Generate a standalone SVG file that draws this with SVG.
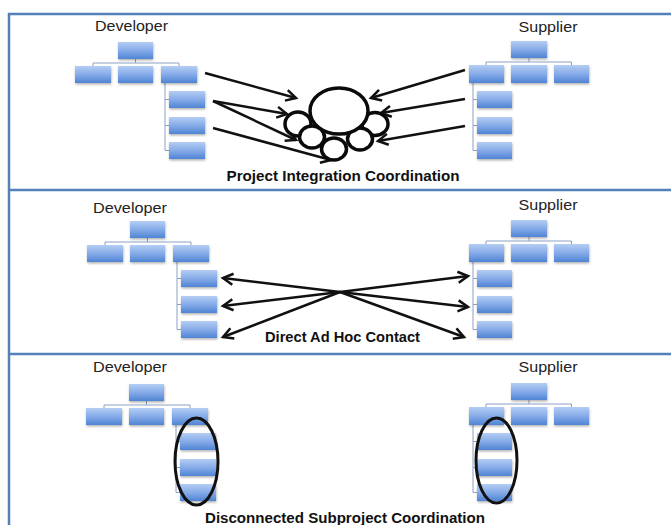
<svg xmlns="http://www.w3.org/2000/svg" width="671" height="525" viewBox="0 0 671 525">
<style>
.box{fill:url(#bg);filter:url(#sh)}
.ol{stroke:#8aa2c4;stroke-width:1;fill:none}
.lbl{font-family:"Liberation Sans",Arial,sans-serif;font-size:15px;fill:#222;text-anchor:middle}
.ttl{font-family:"Liberation Sans",Arial,sans-serif;font-size:14px;font-weight:bold;fill:#111;text-anchor:middle}
.arr{stroke:#111;stroke-width:2.5;fill:none;marker-end:url(#ah)}
.bdr{stroke:#5581b8;stroke-width:2.5;fill:none}
.cir{stroke:#0a0a0a;stroke-width:3.5;fill:#fff}
.ell{stroke:#111;stroke-width:3;fill:none}
</style>
<defs>
<linearGradient id="bg" x1="0" y1="0" x2="0" y2="1">
<stop offset="0" stop-color="#b4cdf3"/>
<stop offset="0.5" stop-color="#86abe8"/>
<stop offset="1" stop-color="#4f84d4"/>
</linearGradient>
<filter id="sh" x="-20%" y="-20%" width="140%" height="160%">
<feDropShadow dx="0.5" dy="1.5" stdDeviation="0.8" flood-color="#000" flood-opacity="0.3"/>
</filter>
<marker id="ah" viewBox="-12 -7 14 14" refX="0" refY="0" markerWidth="14" markerHeight="14" markerUnits="userSpaceOnUse" orient="auto" overflow="visible">
<path d="M-10,-5.5 L0,0 L-10,5.5" stroke="#111" stroke-width="2.5" fill="none" stroke-linejoin="miter"/>
</marker>
<g id="devorg">
<path class="ol" d="M135.5,58V63M93,63H179M93,63V66M179,63V66M165,83V150.5M165,99.5H169M165,125.5H169M165,150.5H169"/>
<rect class="box" x="118" y="42" width="35" height="17"/>
<rect class="box" x="75" y="66" width="36" height="17"/>
<rect class="box" x="118" y="66" width="35" height="17"/>
<rect class="box" x="161" y="66" width="36" height="17"/>
<rect class="box" x="169" y="91" width="36" height="17"/>
<rect class="box" x="169" y="117" width="36" height="17"/>
<rect class="box" x="169" y="142" width="36" height="17"/>
</g>
<g id="suporg">
<path class="ol" d="M529,58V62M486,62H571.5M486,62V65M571.5,62V65M473,83V150.5M473,99.5H477M473,125.5H477M473,150.5H477"/>
<rect class="box" x="511" y="41" width="36" height="17"/>
<rect class="box" x="469" y="65" width="35" height="18"/>
<rect class="box" x="511" y="65" width="36" height="18"/>
<rect class="box" x="554" y="65" width="35" height="18"/>
<rect class="box" x="477" y="91" width="35" height="17"/>
<rect class="box" x="477" y="117" width="35" height="17"/>
<rect class="box" x="477" y="142" width="35" height="17"/>
</g>
</defs>
<rect width="671" height="525" fill="#fff"/>
<g id="panels">
<path class="bdr" d="M9,525V14H671M9,190H671M9,354H671"/>
</g>

<g id="panel1-developer">
<text class="lbl" x="131.5" y="31" textLength="73" lengthAdjust="spacingAndGlyphs">Developer</text>
<use href="#devorg"/>
</g>
<g id="panel1-supplier">
<text class="lbl" x="548" y="32" textLength="59" lengthAdjust="spacingAndGlyphs">Supplier</text>
<use href="#suporg"/>
</g>
<g id="connectors">
<line class="arr" x1="205" y1="73" x2="296" y2="98"/>
<line class="arr" x1="213" y1="101" x2="287" y2="114"/>
<line class="arr" x1="213" y1="101" x2="296" y2="140"/>
<line class="arr" x1="213" y1="128" x2="331" y2="160"/>
<line class="arr" x1="465" y1="70" x2="371" y2="98"/>
<line class="arr" x1="465" y1="99" x2="381" y2="113"/>
<line class="arr" x1="465" y1="126" x2="378" y2="141"/>
<line class="arr" x1="340" y1="292" x2="223" y2="278"/>
<line class="arr" x1="340" y1="292" x2="223" y2="306"/>
<line class="arr" x1="340" y1="292" x2="223" y2="337"/>
<line class="arr" x1="340" y1="292" x2="468" y2="276"/>
<line class="arr" x1="340" y1="292" x2="468" y2="307"/>
<line class="arr" x1="340" y1="292" x2="464" y2="337"/>
</g>
<g id="coordination-hub">
<ellipse class="cir" cx="298" cy="124" rx="13" ry="12"/>
<ellipse class="cir" cx="375" cy="124" rx="13" ry="11.5"/>
<ellipse class="cir" cx="312" cy="137" rx="12.5" ry="11"/>
<ellipse class="cir" cx="360" cy="139" rx="12.5" ry="11"/>
<ellipse class="cir" cx="334" cy="149" rx="12.5" ry="11"/>
<ellipse class="cir" cx="339" cy="111" rx="29" ry="23" stroke-width="4"/>
</g>
<text class="ttl" x="343" y="181" textLength="233" lengthAdjust="spacingAndGlyphs">Project Integration Coordination</text>

<g id="panel2-developer">
<text class="lbl" x="130" y="213" textLength="74" lengthAdjust="spacingAndGlyphs">Developer</text>
<use href="#devorg" transform="translate(12,179)"/>
</g>
<g id="panel2-supplier">
<text class="lbl" x="548" y="210" textLength="59" lengthAdjust="spacingAndGlyphs">Supplier</text>
<use href="#suporg" transform="translate(0,179)"/>
</g>
<text class="ttl" x="342.5" y="342" textLength="155" lengthAdjust="spacingAndGlyphs">Direct Ad Hoc Contact</text>

<g id="panel3-developer">
<text class="lbl" x="130" y="372" textLength="74" lengthAdjust="spacingAndGlyphs">Developer</text>
<use href="#devorg" transform="translate(11,342)"/>
<ellipse class="ell" cx="196.5" cy="461.5" rx="21.5" ry="43.5"/>
</g>
<g id="panel3-supplier">
<text class="lbl" x="548" y="372" textLength="59" lengthAdjust="spacingAndGlyphs">Supplier</text>
<use href="#suporg" transform="translate(0,342)"/>
<ellipse class="ell" cx="496.5" cy="460.5" rx="20.5" ry="42.5"/>
</g>
<text class="ttl" x="345" y="523" textLength="280" lengthAdjust="spacingAndGlyphs">Disconnected Subproject Coordination</text>
</svg>
